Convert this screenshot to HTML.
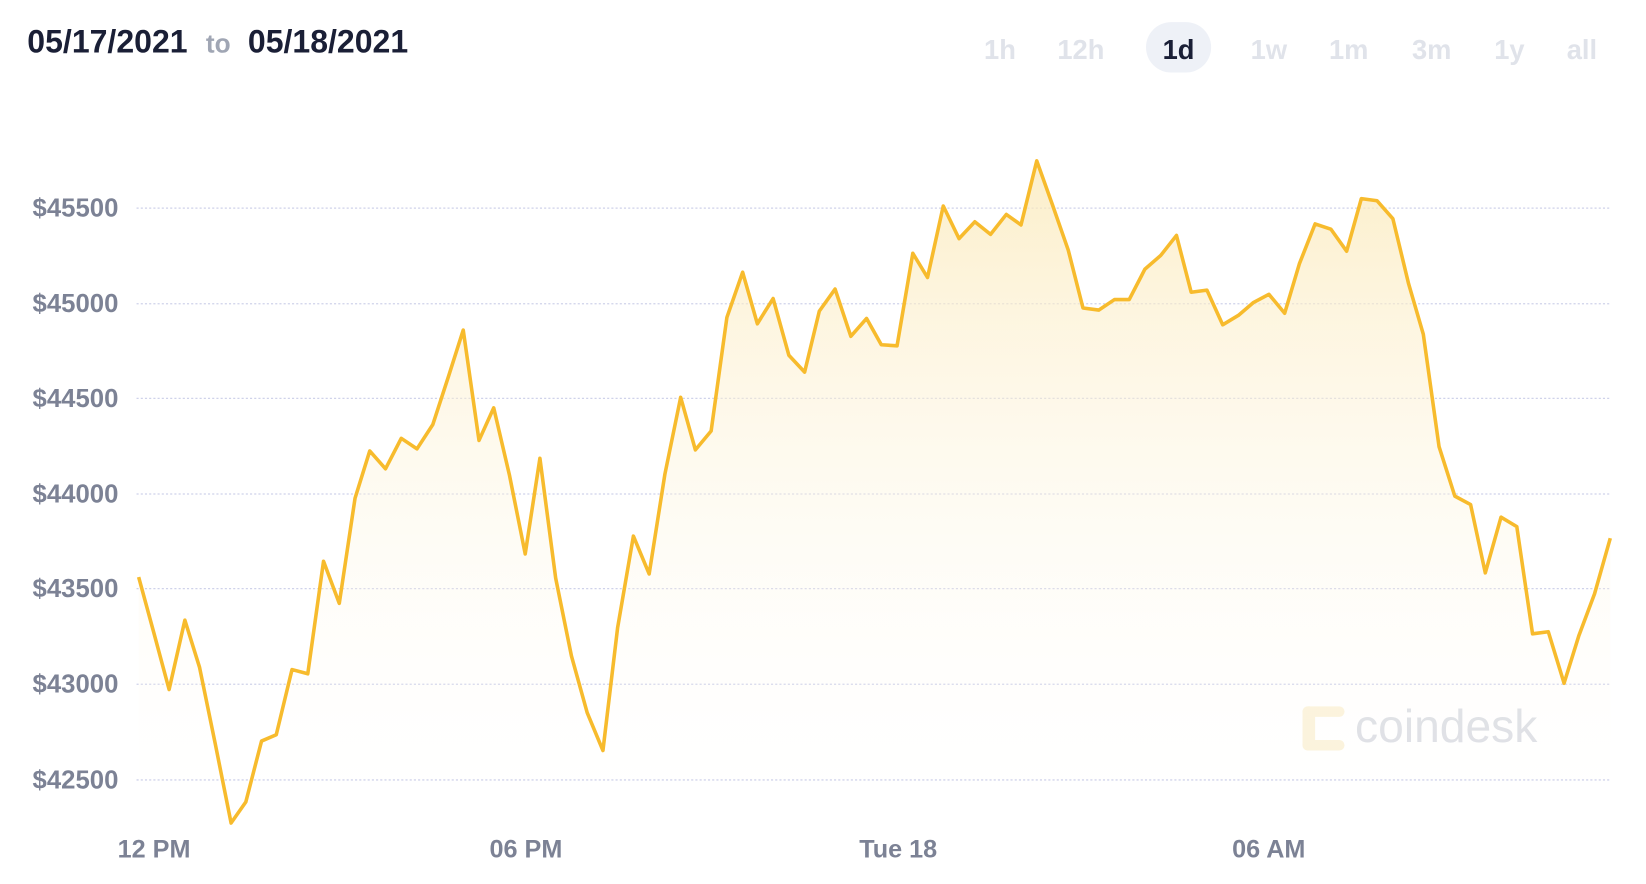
<!DOCTYPE html>
<html><head><meta charset="utf-8"><style>html,body{margin:0;padding:0;background:#fff}svg{display:block}</style></head>
<body>
<svg width="1646" height="884" viewBox="0 0 1567 841" preserveAspectRatio="none" xmlns="http://www.w3.org/2000/svg" font-family="Liberation Sans, sans-serif">
<defs>
<linearGradient id="g" x1="0" y1="0" x2="0" y2="1">
<stop offset="0" stop-color="#fbe9b8" stop-opacity="0.75"/>
<stop offset="1" stop-color="#ffffff" stop-opacity="0"/>
</linearGradient>
</defs>
<text x="26" y="50" font-size="30.5" font-weight="bold" fill="#1a1f36">05/17/2021</text>
<text x="196" y="50" font-size="25" font-weight="bold" fill="#a0a6b4">to</text>
<text x="236" y="50" font-size="30.5" font-weight="bold" fill="#1a1f36">05/18/2021</text>
<g font-size="26" font-weight="bold" fill="#e0e3ea" text-anchor="middle">
<text x="952" y="56">1h</text><text x="1029" y="56">12h</text>
<rect x="1091" y="21" width="62" height="48" rx="24" fill="#eef1f7"/>
<text x="1122" y="56" fill="#1a1f36">1d</text>
<text x="1208" y="56">1w</text><text x="1284" y="56">1m</text><text x="1363" y="56">3m</text><text x="1437" y="56">1y</text><text x="1506" y="56">all</text>
</g>
<g stroke="#cfd2ea" stroke-dasharray="2,2" stroke-width="1.2">
<line x1="130" x2="1533" y1="198" y2="198"/><line x1="130" x2="1533" y1="289" y2="289"/><line x1="130" x2="1533" y1="379" y2="379"/><line x1="130" x2="1533" y1="470" y2="470"/><line x1="130" x2="1533" y1="560" y2="560"/><line x1="130" x2="1533" y1="651" y2="651"/><line x1="130" x2="1533" y1="742" y2="742"/>
</g>
<g font-size="24.5" font-weight="bold" fill="#7c8295">
<text x="31" y="206">$45500</text><text x="31" y="297">$45000</text><text x="31" y="387">$44500</text><text x="31" y="478">$44000</text><text x="31" y="568">$43500</text><text x="31" y="659">$43000</text><text x="31" y="750">$42500</text>
</g>
<g font-size="24" font-weight="bold" fill="#7c8295">
<text x="112" y="816">12 PM</text><text x="466" y="816">06 PM</text><text x="818" y="816">Tue 18</text><text x="1173" y="816">06 AM</text>
</g>
<g opacity="0.9">
<rect x="1240" y="672" width="12" height="42" rx="5" fill="#fbf1d6"/>
<rect x="1240" y="672" width="40" height="10" rx="5" fill="#fbf1d6"/>
<rect x="1240" y="704" width="40" height="10" rx="5" fill="#fbf1d6"/>
<text x="1290" y="706" font-size="44" fill="#d9dbe2">coindesk</text>
</g>
<path fill="url(#g)" d="M132,549 L147,604 L161,656 L176,590 L190,635 L205,708 L220,783 L234,763 L249,705 L263,699 L278,637 L293,641 L308,534 L323,574 L338,474 L352,429 L367,446 L382,417 L397,427 L412,404 L427,358 L441,314 L456,419 L470,388 L485,452 L500,527 L514,436 L529,550 L544,624 L559,678 L574,714 L588,597 L603,510 L618,546 L633,451 L648,378 L662,428 L677,410 L692,302 L707,259 L721,308 L736,284 L751,338 L766,354 L780,296 L795,275 L810,320 L825,303 L839,328 L854,329 L869,241 L883,264 L898,196 L913,227 L928,211 L943,223 L958,204 L972,214 L987,153 L1002,195 L1017,238 L1031,293 L1046,295 L1061,285 L1075,285 L1090,256 L1105,243 L1120,224 L1134,278 L1149,276 L1164,309 L1179,300 L1193,288 L1208,280 L1223,298 L1237,251 L1252,213 L1267,218 L1282,239 L1296,189 L1311,191 L1326,208 L1341,270 L1355,318 L1370,425 L1385,472 L1400,480 L1414,545 L1429,492 L1444,501 L1459,603 L1474,601 L1489,650 L1503,605 L1518,565 L1533,512 L1533,790 L132,790 Z"/>
<path fill="none" stroke="#f7bb2d" stroke-width="3.4" stroke-linejoin="round" d="M132,549 L147,604 L161,656 L176,590 L190,635 L205,708 L220,783 L234,763 L249,705 L263,699 L278,637 L293,641 L308,534 L323,574 L338,474 L352,429 L367,446 L382,417 L397,427 L412,404 L427,358 L441,314 L456,419 L470,388 L485,452 L500,527 L514,436 L529,550 L544,624 L559,678 L574,714 L588,597 L603,510 L618,546 L633,451 L648,378 L662,428 L677,410 L692,302 L707,259 L721,308 L736,284 L751,338 L766,354 L780,296 L795,275 L810,320 L825,303 L839,328 L854,329 L869,241 L883,264 L898,196 L913,227 L928,211 L943,223 L958,204 L972,214 L987,153 L1002,195 L1017,238 L1031,293 L1046,295 L1061,285 L1075,285 L1090,256 L1105,243 L1120,224 L1134,278 L1149,276 L1164,309 L1179,300 L1193,288 L1208,280 L1223,298 L1237,251 L1252,213 L1267,218 L1282,239 L1296,189 L1311,191 L1326,208 L1341,270 L1355,318 L1370,425 L1385,472 L1400,480 L1414,545 L1429,492 L1444,501 L1459,603 L1474,601 L1489,650 L1503,605 L1518,565 L1533,512"/>
</svg>
</body></html>
